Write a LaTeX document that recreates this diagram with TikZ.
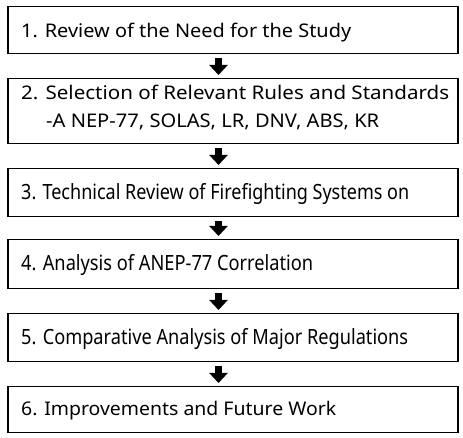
\documentclass[tikz,border=0pt]{standalone}
\usepackage{graphicx}
\usepackage{fontspec}
\setmainfont{Noto Sans}
\usetikzlibrary{arrows.meta,calc}
\newcommand{\fitw}[2]{\resizebox{#1}{\height}{#2}}
\begin{document}
\begin{tikzpicture}[x=1pt,y=1pt,
  stepbox/.style={draw=black, line width=1.5pt, rectangle, inner sep=0pt, minimum width=450pt, anchor=north west},
  steplabel/.style={anchor=base west, inner sep=0pt, font=\fontsize{18.8}{26}\selectfont, align=left},
  steplabelb/.style={steplabel, font=\fontsize{21}{28}\selectfont},
  blockarrow/.style={line width=7pt, -{Triangle[width=18pt,length=10pt]}, shorten <=4pt, shorten >=3pt}]
\useasboundingbox (0,0) rectangle (463,438);
\coordinate (axis) at (218.5,0);
\node[stepbox, minimum height=47pt] (b1) at (7,432) {};
\node[stepbox, minimum height=65pt] (b2) at (7,360) {};
\node[stepbox, minimum height=48pt] (b3) at (7,270) {};
\node[stepbox, minimum height=49pt] (b4) at (7,199) {};
\node[stepbox, minimum height=48pt] (b5) at (7,125) {};
\node[stepbox, minimum height=46pt] (b6) at (7,52) {};
\node[steplabel] (t1) at (21,400) {\fitw{330pt}{1. Review of the Need for the Study}};
\node[steplabel] (t2) at (21,338) {\fitw{428pt}{2. Selection of Relevant Rules and Standards}};
\node[steplabel] (t2b) at (46,310) {\fitw{333pt}{-A NEP-77, SOLAS, LR, DNV, ABS, KR}};
\node[steplabelb] (t3) at (21,238) {\fitw{388pt}{3. Technical Review of Firefighting Systems on}};
\node[steplabelb] (t4) at (21,167) {\fitw{292pt}{4. Analysis of ANEP-77 Correlation}};
\node[steplabelb] (t5) at (21,93) {\fitw{387pt}{5. Comparative Analysis of Major Regulations}};
\node[steplabel] (t6) at (21,22) {\fitw{315pt}{6. Improvements and Future Work}};
\draw[blockarrow] (b1.south -| axis) -- (b2.north -| axis);
\draw[blockarrow] (b2.south -| axis) -- (b3.north -| axis);
\draw[blockarrow] (b3.south -| axis) -- (b4.north -| axis);
\draw[blockarrow] (b4.south -| axis) -- (b5.north -| axis);
\draw[blockarrow] (b5.south -| axis) -- (b6.north -| axis);
\end{tikzpicture}
\end{document}
